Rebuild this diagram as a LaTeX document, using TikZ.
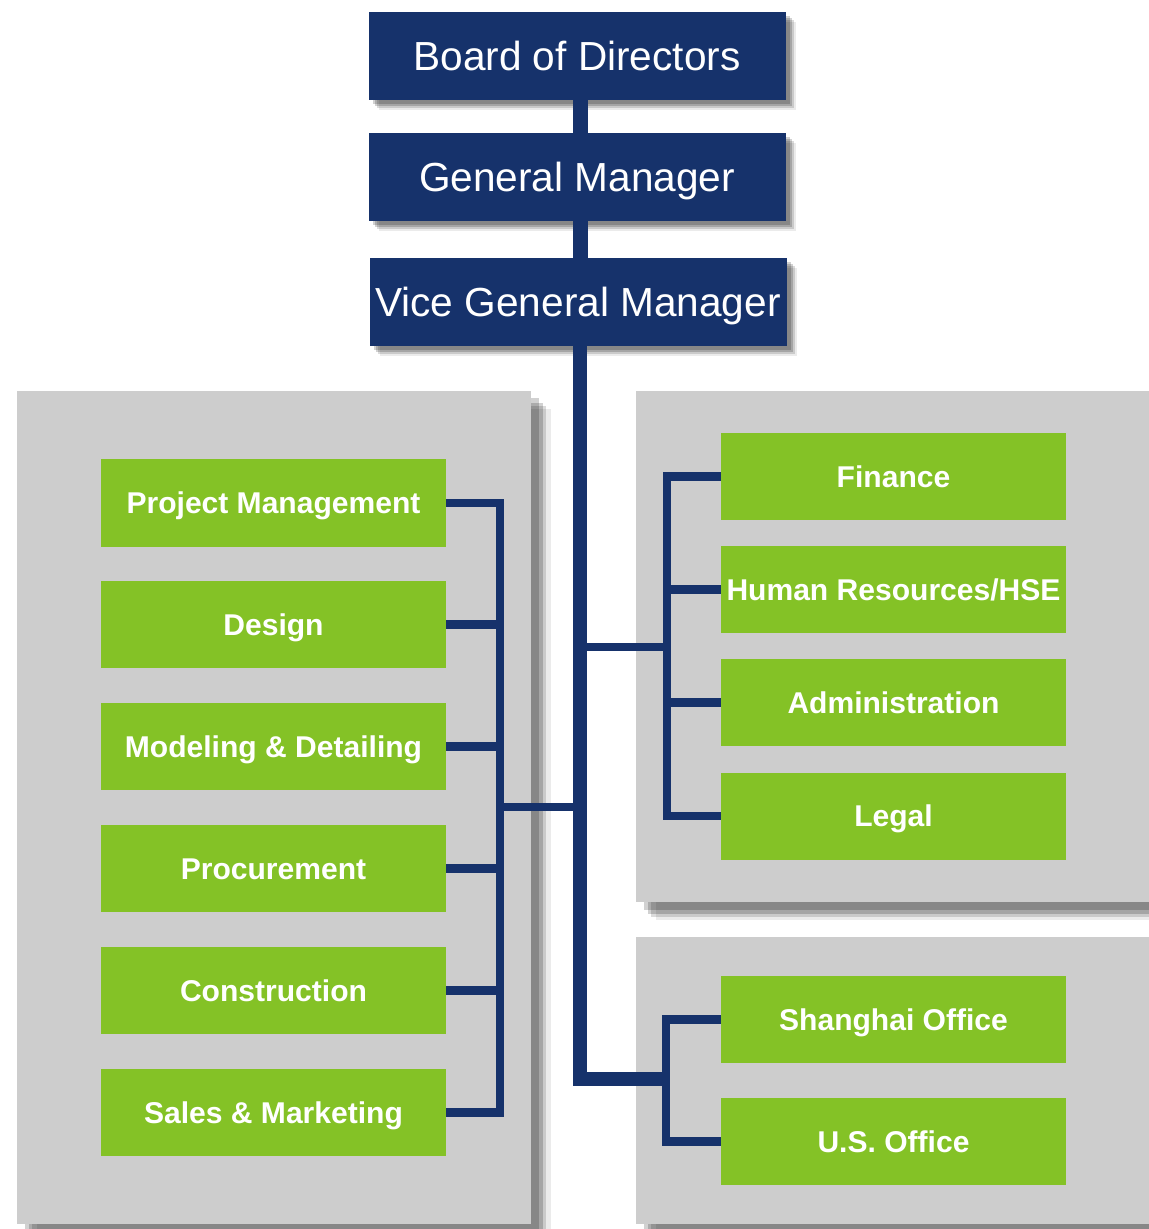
\documentclass[tikz,border=0pt]{standalone}
\usepackage{fontspec}
\setmainfont{Liberation Sans}
\usetikzlibrary{calc}

\definecolor{navy}{HTML}{16326B}
\definecolor{leaf}{HTML}{84C226}
\definecolor{panelgray}{HTML}{CDCDCD}

\begin{document}
\begin{tikzpicture}[x=0.2mm, y=-0.2mm,
    softshadow/.style={
        preaction={fill=black, opacity=.18, transform canvas={shift={(#1*0.5,-#1*0.5)}}},
        preaction={fill=black, opacity=.18, transform canvas={shift={(#1*0.8,-#1*0.8)}}},
        preaction={fill=black, opacity=.14, transform canvas={shift={(#1,-#1)}}},
        preaction={fill=black, opacity=.08, transform canvas={shift={(#1*1.3,-#1*1.2)}}}},
    boardbox/.style={fill=navy, text=white, inner sep=0pt,
        minimum width=83.4mm, minimum height=17.6mm,
        text height=5.8mm, text depth=0pt,
        font=\fontsize{23.1pt}{26pt}\selectfont,
        softshadow=1.6mm},
    deptbox/.style={fill=leaf, text=white, inner sep=0pt,
        minimum width=69mm, minimum height=17.4mm,
        text height=4.2mm, text depth=0pt,
        font=\bfseries\fontsize{17.1pt}{20pt}\selectfont},
    panel/.style={fill=panelgray, softshadow=3mm},
    trunk/.style={draw=navy, line width=2.7mm},
    branch/.style={draw=navy, line width=1.7mm}]

    % --- Page ---
    \useasboundingbox (0,0) rectangle (1148,1229);

    % --- Definitions ---
    % x of the main trunk and of the three buses
    \coordinate (t) at (580,0);
    \coordinate (lb) at (500,0);
    \coordinate (rb) at (667,0);
    % Points where the buses meet the trunk
    \coordinate (ljoin) at (500,807);
    \coordinate (rjoin) at (667,647);
    \coordinate (ojoin) at (666,1079);

    % --- Grey panels ---
    \path[panel] (17,391) rectangle (531,1224);
    \path[panel] (636,391) rectangle (1170,902);
    \path[panel] (636,937) rectangle (1170,1224);

    % --- Management ---
    \node[boardbox] (board) at (577,56) {Board of Directors};
    \node[boardbox] (gm) at (577,177) {General Manager};
    \node[boardbox] (vgm) at (578,302) {Vice General Manager};

    % --- Left departments ---
    \node[deptbox] (pm) at (273.5,503) {Project Management};
    \node[deptbox] (des) at (273.5,624.5) {Design};
    \node[deptbox] (mod) at (273.5,746.5) {Modeling \& Detailing};
    \node[deptbox] (pro) at (273.5,868.5) {Procurement};
    \node[deptbox] (con) at (273.5,990.5) {Construction};
    \node[deptbox] (sal) at (273.5,1112.5) {Sales \& Marketing};

    % --- Right departments ---
    \node[deptbox] (fin) at (893.5,476.5) {Finance};
    \node[deptbox] (hr) at (893.5,589.5) {Human Resources/HSE};
    \node[deptbox] (adm) at (893.5,702.5) {Administration};
    \node[deptbox] (leg) at (893.5,816) {Legal};

    % --- Offices ---
    \node[deptbox] (sha) at (893.5,1019.5) {Shanghai Office};
    \node[deptbox] (uso) at (893.5,1141.5) {U.S. Office};

    % --- Connectors ---
    % 1. Top of the trunk
    \draw[trunk, line width=3mm] (board.south -| t) -- (gm.north -| t);
    \draw[trunk, line width=3mm] (gm.south -| t) -- (vgm.north -| t);
    \draw[trunk] (vgm.south -| t) |- (ojoin);

    % 2. Left bus
    \draw[branch] (pm.east) -| (lb |- sal.east) -- (sal.east);
    \draw[branch] (des.east) -- (des.east -| lb);
    \draw[branch] (mod.east) -- (mod.east -| lb);
    \draw[branch] (pro.east) -- (pro.east -| lb);
    \draw[branch] (con.east) -- (con.east -| lb);
    \draw[branch] (ljoin) -- (ljoin -| t);

    % 3. Right bus
    \draw[branch] (fin.west) -| (rb |- leg.west) -- (leg.west);
    \draw[branch] (hr.west) -- (hr.west -| rb);
    \draw[branch] (adm.west) -- (adm.west -| rb);
    \draw[branch] (rjoin) -- (rjoin -| t);

    % 4. Offices bus
    \draw[branch] (sha.west) -| (ojoin |- uso.west) -- (uso.west);

\end{tikzpicture}
\end{document}
